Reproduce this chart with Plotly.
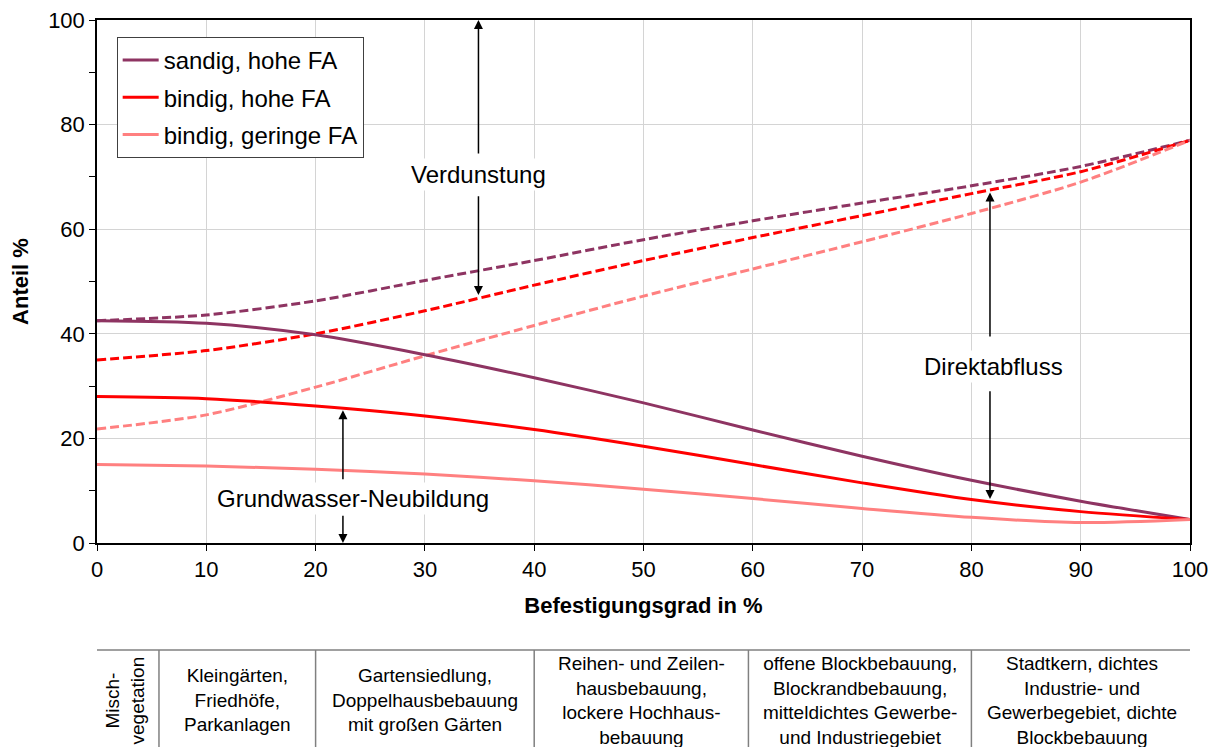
import plotly.graph_objects as go

# ---------------- data ----------------
befestigung = [0, 10, 20, 30, 40, 50, 60, 70, 80, 90, 100]

series_names = ["sandig, hohe FA", "bindig, hohe FA", "bindig, geringe FA"]

# Grundwasser-Neubildung (solid)
gwn_sandig_hoch = [42.5, 42.0, 39.8, 36.0, 31.6, 26.8, 21.6, 16.6, 12.0, 8.0, 4.5]
gwn_bindig_hoch = [28.0, 27.6, 26.2, 24.3, 21.7, 18.5, 15.0, 11.5, 8.3, 6.0, 4.5]
gwn_bindig_gering = [15.0, 14.7, 14.1, 13.2, 11.9, 10.3, 8.5, 6.6, 4.9, 3.9, 4.5]

# Verdunstung (dashed)
vd_sandig_hoch = [42.5, 43.6, 46.3, 50.2, 54.0, 58.0, 61.6, 65.0, 68.3, 72.0, 77.0]
vd_bindig_hoch = [35.0, 36.8, 40.0, 44.4, 49.3, 54.0, 58.4, 62.6, 66.8, 71.0, 77.0]
vd_bindig_gering = [21.8, 24.5, 29.8, 35.8, 41.6, 47.2, 52.4, 57.6, 63.0, 69.0, 77.0]

x_ticks = [0, 10, 20, 30, 40, 50, 60, 70, 80, 90, 100]
y_ticks = [0, 20, 40, 60, 80, 100]

# table below the chart (column borders in Befestigungsgrad units)
table_borders = [-0.46, 5.67, 20.0, 40.0, 59.6, 80.0, 100.3]
table_texts = [
    "Misch-<br>vegetation",
    "Kleingärten,<br>Friedhöfe,<br>Parkanlagen",
    "Gartensiedlung,<br>Doppelhausbebauung<br>mit großen Gärten",
    "Reihen- und Zeilen-<br>hausbebauung,<br>lockere Hochhaus-<br>bebauung",
    "offene Blockbebauung,<br>Blockrandbebauung,<br>mitteldichtes Gewerbe-<br>und Industriegebiet",
    "Stadtkern, dichtes<br>Industrie- und<br>Gewerbegebiet, dichte<br>Blockbebauung",
]

colors = ["#8E3462", "#FF0000", "#FF8080"]
FONT = "Liberation Sans, Arial, sans-serif"

fig = go.Figure()

solid = [gwn_sandig_hoch, gwn_bindig_hoch, gwn_bindig_gering]
dashed = [vd_sandig_hoch, vd_bindig_hoch, vd_bindig_gering]

# dashed first so solid lines lie on top
for i in range(3):
    fig.add_trace(go.Scatter(
        x=befestigung, y=dashed[i], mode="lines", name=series_names[i] + " (Verdunstung)",
        line=dict(color=colors[i], width=3, dash="9px,4px", shape="spline", smoothing=0.8),
        showlegend=False, legendgroup=f"g{i}", hoverinfo="x+y"))
for i in range(3):
    fig.add_trace(go.Scatter(
        x=befestigung, y=solid[i], mode="lines", name=series_names[i],
        line=dict(color=colors[i], width=3, shape="spline", smoothing=0.8),
        legendgroup=f"g{i}", hoverinfo="x+y"))

annotations = []

# labelled regions
def label(text, x, y):
    annotations.append(dict(x=x, y=y, xref="x", yref="y", text=text, showarrow=False,
                            font=dict(family=FONT, size=24, color="black"),
                            bgcolor="white", borderpad=2))

def arrow(x, y_from, y_to):
    annotations.append(dict(x=x, y=y_to, ax=x, ay=y_from, xref="x", yref="y",
                            axref="x", ayref="y", text="", showarrow=True,
                            arrowhead=2, arrowsize=1.2, arrowwidth=1.5,
                            arrowcolor="black", standoff=0, startstandoff=0))

label("Verdunstung", 34.9, 70.4)
arrow(34.9, 74.2, 100)
arrow(34.9, 66.6, 47.4)

label("Direktabfluss", 82.0, 33.8)
arrow(81.7, 39.2, 67.0)
arrow(81.7, 29.3, 8.4)

label("Grundwasser-Neubildung", 23.4, 8.6)
arrow(22.5, 11.9, 25.4)
arrow(22.5, 5.5, 0)

# table
shapes = []
top_y = -(650 - 543) / 523
bottom_y = -0.45
border_col = "#808080"
shapes.append(dict(type="line", xref="x", yref="paper", x0=table_borders[0], x1=table_borders[-1],
                   y0=top_y, y1=top_y, line=dict(color=border_col, width=1.5)))
for b in table_borders:
    shapes.append(dict(type="line", xref="x", yref="paper", x0=b, x1=b,
                       y0=top_y, y1=bottom_y, line=dict(color=border_col, width=1.5)))

text_y = -(700 - 543) / 523
for i, t in enumerate(table_texts):
    cx = (table_borders[i] + table_borders[i + 1]) / 2
    annotations.append(dict(x=cx, y=text_y, xref="x", yref="paper", text=t, showarrow=False,
                            xanchor="center", yanchor="middle", align="center",
                            textangle=-90 if i == 0 else 0,
                            font=dict(family=FONT, size=19, color="black")))

# the page body adds an 8px offset; margins compensate so the plot area sits at
# 97..1190 px horizontally and 20..543 px vertically in the window
fig.update_layout(
    width=1219, height=747,
    margin=dict(l=89, r=37, t=12, b=212),
    paper_bgcolor="white", plot_bgcolor="white",
    font=dict(family=FONT, color="black"),
    showlegend=True,
    legend=dict(x=0.018, y=0.9675, xanchor="left", yanchor="top",
                bgcolor="white", bordercolor="#404040", borderwidth=1,
                font=dict(family=FONT, size=24, color="black"),
                traceorder="grouped", tracegroupgap=3, itemwidth=36),
    annotations=annotations,
    shapes=shapes,
)

fig.update_xaxes(
    range=[0, 100], tickvals=x_ticks, ticktext=[str(v) for v in x_ticks],
    showgrid=True, gridcolor="#D4D4D4", gridwidth=1,
    showline=True, linecolor="black", linewidth=1.5, mirror=True,
    ticks="outside", ticklen=6, tickcolor="black",
    tickfont=dict(family=FONT, size=22, color="black"),
    ticklabeloverflow="allow",
    zeroline=False, automargin=False,
    title=dict(text="<b>Befestigungsgrad in %</b>", standoff=16,
               font=dict(family=FONT, size=22, color="black")),
)
fig.update_yaxes(
    range=[0, 100], tickvals=y_ticks, ticktext=[str(v) for v in y_ticks],
    showgrid=True, gridcolor="#D4D4D4", gridwidth=1,
    showline=True, linecolor="black", linewidth=1.5, mirror=True,
    ticks="outside", ticklen=6, tickcolor="black",
    minor=dict(dtick=10, ticks="outside", ticklen=6, tickcolor="black", showgrid=False),
    tickfont=dict(family=FONT, size=22, color="black"),
    ticklabeloverflow="allow",
    zeroline=False, automargin=False,
    title=dict(text="<b>Anteil %</b>", standoff=14,
               font=dict(family=FONT, size=22, color="black")),
)

fig.write_html("out.html")
